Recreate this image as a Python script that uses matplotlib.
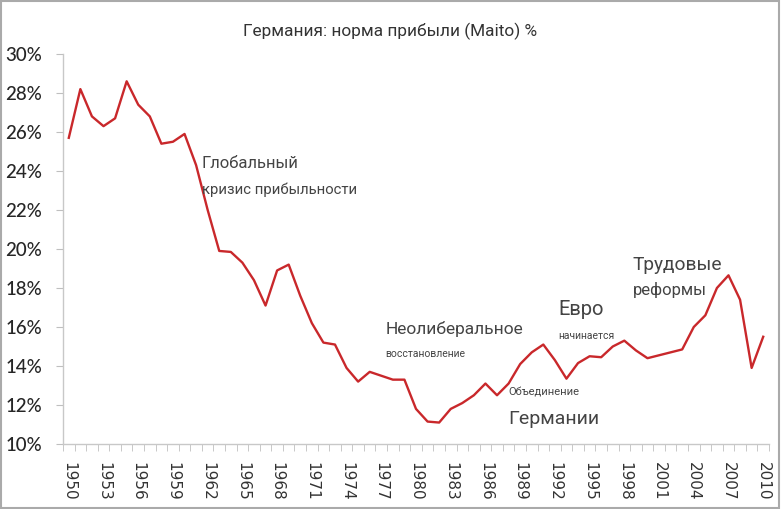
import matplotlib.pyplot as plt
import numpy as np
from matplotlib.ticker import FixedLocator, PercentFormatter

years = list(range(1950, 2011))
rate = [25.7, 28.2, 26.8, 26.3, 26.7, 28.6, 27.4, 26.8, 25.4, 25.5,
        25.9, 24.3, 22.0, 19.9, 19.85, 19.3, 18.4, 17.1, 18.9, 19.2,
        17.6, 16.2, 15.2, 15.1, 13.9, 13.2, 13.7, 13.5, 13.3, 13.3,
        11.8, 11.15, 11.1, 11.8, 12.1, 12.5, 13.1, 12.5, 13.1, 14.1,
        14.7, 15.1, 14.3, 13.35, 14.15, 14.5, 14.45, 15.0, 15.3, 14.8,
        14.4, 14.55, 14.7, 14.85, 16.0, 16.6, 18.0, 18.65, 17.4, 13.9,
        15.5]
label_years = list(range(1950, 2011, 3))

# text notes: (text, x year, y %, size)
notes = [
    ("Глобальный", 1961.5, 24.4, 12),
    ("кризис прибыльности", 1961.5, 23.05, 10.7),
    ("Неолиберальное", 1977.35, 15.9, 12.5),
    ("восстановление", 1977.35, 14.6, 7.5),
    ("Объединение", 1987.95, 12.65, 8),
    ("Германии", 1987.95, 11.3, 14),
    ("Евро", 1992.3, 16.9, 14.5),
    ("начинается", 1992.3, 15.55, 7.5),
    ("Трудовые", 1998.7, 19.2, 13.8),
    ("реформы", 1998.7, 17.9, 12),
]

fig = plt.figure(figsize=(7.81, 5.09), dpi=100)
ax = fig.add_axes([63/781, 1-444/509, (769-63)/781, (444-54)/509])

ax.plot(years, rate, color='#c9282b', lw=1.7, zorder=2)

ax.set_xlim(1949.5, 2010.5)
ax.set_ylim(10, 30)
ax.set_yticks(np.arange(10, 31, 2))
ax.yaxis.set_major_formatter(PercentFormatter(decimals=0))
ax.set_xticks(label_years)
ax.set_xticklabels([str(y) for y in label_years], rotation=270,
                   fontsize=11, color='#333333', family='DejaVu Sans')
ax.xaxis.set_minor_locator(FixedLocator(np.arange(1949.5, 2011, 1)))
ax.tick_params(axis='x', which='major', length=0, pad=13)
ax.tick_params(axis='x', which='minor', length=5, color='#bfbfbf', direction='out')
ax.tick_params(axis='y', length=5, color='#bfbfbf', labelsize=13.5,
               labelcolor='#262626', pad=10)
for lab in ax.get_yticklabels():
    lab.set_family('Lato')
    lab.set_weight('medium')

for s in ['top', 'right']:
    ax.spines[s].set_visible(False)
for s in ['left', 'bottom']:
    ax.spines[s].set_color('#c8c8c8')
    ax.spines[s].set_linewidth(1.0)

for text, x, y, size in notes:
    ax.text(x, y, text, fontsize=size, color='#444444', family='Roboto',
            ha='left', va='center', zorder=3)

fig.suptitle('Германия: норма прибыли (Maito) %', x=0.5, y=0.955,
             fontsize=12.4, color='#333333', family='Roboto')

fig.patches.append(plt.Rectangle((0.001, 0.001), 0.997, 0.997,
                                 transform=fig.transFigure, fill=False,
                                 edgecolor='#aaaaaa', lw=1.5))

fig.savefig('out.png', dpi=100, facecolor='white')
